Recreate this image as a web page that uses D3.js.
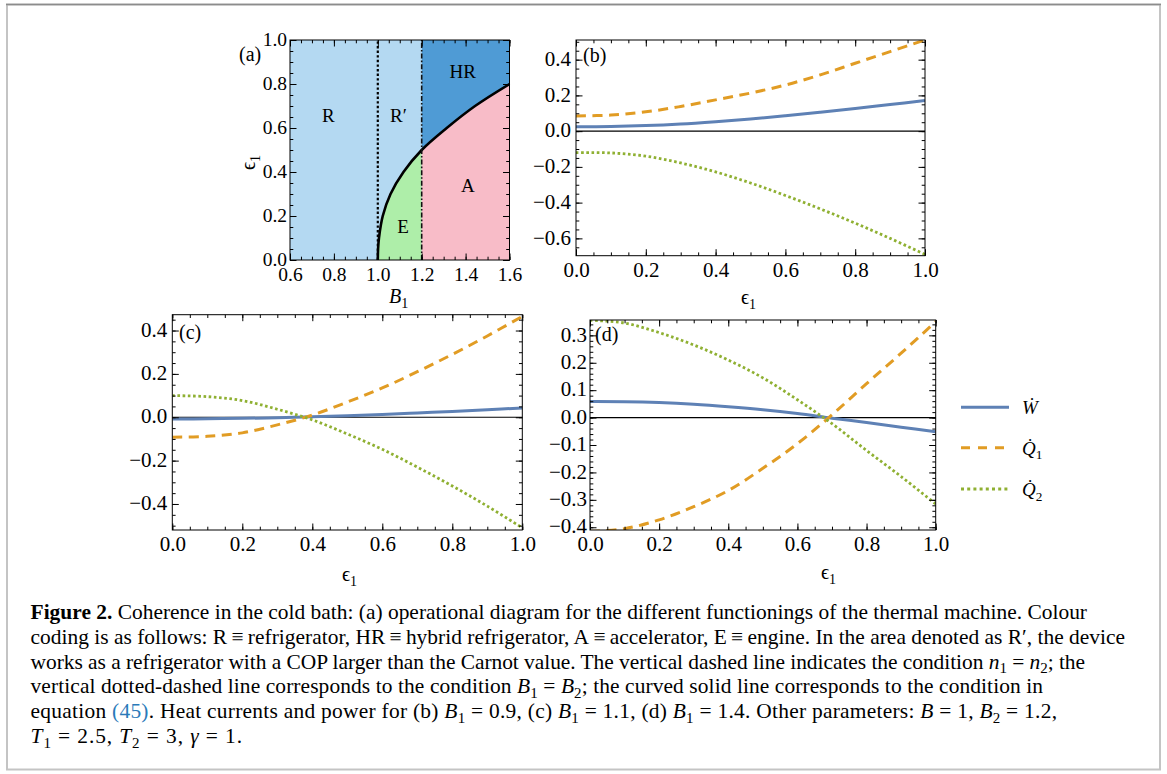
<!DOCTYPE html>
<html>
<head>
<meta charset="utf-8">
<script src="https://cdn.jsdelivr.net/npm/d3@7"></script>
<style>
body { margin: 0; background: #fff; }
text { font-family: "Liberation Serif", "DejaVu Serif", "Noto Serif", serif; fill: #000; white-space: pre; }
</style>
</head>
<body>
<svg id="fig" width="1167" height="774"></svg>
<script>
// ---------- data ----------
// panel (a): operational diagram
var boundaryEps = [0, 0.05, 0.1, 0.2, 0.3, 0.4, 0.5, 0.6, 0.7, 0.8];
var boundaryB1  = [1.0, 1.0013, 1.0053, 1.0225, 1.058, 1.117, 1.2, 1.314, 1.443, 1.6];
var B1_N = 1.0;      // n1 = n2 (dotted line)
var B1_B2 = 1.2;     // B1 = B2 (dot-dashed line)
var regionNames = ['R', 'R\u2032', 'HR', 'A', 'E'];
var regionLabelB1  = [0.775, 1.094, 1.387, 1.41, 1.115];
var regionLabelEps = [0.659, 0.659, 0.856, 0.34, 0.151];
var xTicksA = [0.6, 0.8, 1.0, 1.2, 1.4, 1.6];
var yTicksA = [0.0, 0.2, 0.4, 0.6, 0.8, 1.0];

// panels (b)-(d): W, Q1, Q2 versus eps1
var eps = [0, 0.1, 0.2, 0.3, 0.4, 0.5, 0.6, 0.7, 0.8, 0.9, 1.0];
var wB  = [0.025, 0.026, 0.031, 0.040, 0.053, 0.068, 0.086, 0.106, 0.127, 0.149, 0.171];
var q1B = [0.085, 0.090, 0.108, 0.138, 0.175, 0.213, 0.258, 0.315, 0.380, 0.445, 0.510];
var q2B = [-0.120, -0.122, -0.140, -0.178, -0.228, -0.290, -0.360, -0.435, -0.515, -0.600, -0.690];

var wC  = [-0.008, -0.007, -0.005, -0.002, 0.002, 0.007, 0.013, 0.020, 0.027, 0.035, 0.043];
var q1C = [-0.092, -0.088, -0.072, -0.035, 0.010, 0.070, 0.135, 0.210, 0.290, 0.375, 0.465];
var q2C = [0.100, 0.095, 0.077, 0.037, -0.012, -0.077, -0.148, -0.230, -0.317, -0.410, -0.510];

var wD  = [0.0585, 0.058, 0.055, 0.049, 0.040, 0.029, 0.015, -0.002, -0.018, -0.035, -0.052];
var q1D = [-0.415, -0.405, -0.373, -0.325, -0.266, -0.185, -0.095, 0.010, 0.124, 0.235, 0.350];
var q2D = [0.355, 0.345, 0.310, 0.265, 0.210, 0.145, 0.065, -0.022, -0.120, -0.215, -0.315];

var xTicksE = [0, 0.2, 0.4, 0.6, 0.8, 1.0];
var yTicksB = [-0.6, -0.4, -0.2, 0, 0.2, 0.4];
var yTicksC = [-0.4, -0.2, 0, 0.2, 0.4];
var yTicksD = [-0.4, -0.3, -0.2, -0.1, 0, 0.1, 0.2, 0.3];

var seriesColor = ['#5e81b5', '#e19c24', '#8fb032'];
var seriesDash  = [null, '10,6.5', '2.6,2.6'];
var seriesWidth = [3, 3, 2.8];

// ---------- helpers ----------
var svg = d3.select('#fig');
var fmt = d3.format('.1f');

function measure(str, size, weight, italic) {
	var t = svg.append('text').style('font-size', size + 'px').style('font-weight', weight || 'normal')
		.style('font-style', italic ? 'italic' : 'normal').text(str);
	var w = t.node().getComputedTextLength();
	t.remove();
	return w;
}
// sizes below are Times-like sizes; scale them to whatever serif face is installed
var widthRatio = measure('0.4', 100) / 125;
function S(s) { return s / widthRatio; }

// italic symbol with subscript, e.g. B1, eps1
function symSub(g, x, y, base, sub, size, italic) {
	var t = g.append('text').attr('x', x).attr('y', y).style('font-size', size + 'px');
	t.append('tspan').style('font-style', italic ? 'italic' : 'normal').text(base);
	t.append('tspan').attr('dy', size * 0.25).style('font-size', (size * 0.7) + 'px').text(sub);
	return t;
}

function frameTicks(g, x, y, o) {
	var xr = x.range(), yr = y.range();
	var minor = function(dom, step) {
		var a = Math.ceil(dom[0] / step - 1e-6), b = Math.floor(dom[1] / step + 1e-6);
		return d3.range(a, b + 1).map(function(i) { return +(i * step).toFixed(4); });
	};
	var xMin = minor(x.domain(), o.xMinor), yMin = minor(y.domain(), o.yMinor);
	var defs = [
		[d3.axisBottom(x), 'translate(0,' + yr[0] + ')', o.xTicks, xMin, true, o.xPad],
		[d3.axisTop(x), 'translate(0,' + yr[1] + ')', o.xTicks, xMin, false, 0],
		[d3.axisLeft(y), 'translate(' + xr[0] + ',0)', o.yTicks, yMin, true, o.yPad],
		[d3.axisRight(y), 'translate(' + xr[1] + ',0)', o.yTicks, yMin, false, 0]
	];
	defs.forEach(function(d, k) {
		var gm = g.append('g').attr('transform', d[1]).call(d[0].tickValues(d[3]).tickSize(-3.3).tickFormat(''));
		gm.select('.domain').remove();
		gm.selectAll('text').remove();
		var gM = g.append('g').attr('transform', d[1])
			.call(d[0].tickValues(d[2]).tickSize(-6.5).tickPadding(d[5]).tickFormat(d[4] ? fmt : ''));
		gM.select('.domain').remove();
		if (!d[4]) gM.selectAll('text').remove();
		gM.selectAll('text').attr('fill', '#000')
			.style('font-family', '"Liberation Serif","DejaVu Serif","Noto Serif",serif')
			.style('font-size', o.font + 'px');
		if (k === 2) gM.selectAll('text').attr('dy', '0.27em');
	});
	g.selectAll('.tick line').attr('stroke', '#000').attr('stroke-width', 1);
	g.append('rect').attr('x', xr[0]).attr('y', yr[1]).attr('width', xr[1] - xr[0]).attr('height', yr[0] - yr[1])
		.attr('fill', 'none').attr('stroke', '#000').attr('stroke-width', 1);
}

// ---------- outer border ----------
svg.append('rect').attr('x', 7).attr('y', 4.5).attr('width', 1153).attr('height', 765)
	.attr('fill', 'none').attr('stroke', '#c4c4c4').attr('stroke-width', 2);
svg.append('line').attr('x1', 6).attr('x2', 1161).attr('y1', 4.5).attr('y2', 4.5)
	.attr('stroke', '#8c8c8c').attr('stroke-width', 1.5);

// ---------- panel (a) ----------
(function() {
	var x = d3.scaleLinear().domain([0.6, 1.6]).range([290, 509.5]);
	var y = d3.scaleLinear().domain([0, 1]).range([260, 40]);
	var g = svg.append('g');
	var pts = boundaryB1.map(function(b, i) { return [b, boundaryEps[i]]; });
	var left = pts.filter(function(p) { return p[0] <= B1_B2 + 1e-9; });
	var right = pts.filter(function(p) { return p[0] >= B1_B2 - 1e-9; });

	// refrigerator band (R, R') and hybrid refrigerator band (HR)
	g.append('rect').attr('x', x(0.6)).attr('y', y(1)).attr('width', x(B1_B2) - x(0.6)).attr('height', y(0) - y(1)).attr('fill', '#b4d9f2');
	g.append('rect').attr('x', x(B1_B2)).attr('y', y(1)).attr('width', x(1.6) - x(B1_B2)).attr('height', y(0) - y(1)).attr('fill', '#4f9bd5');

	var area = d3.area().x(function(p) { return x(p[0]); }).y0(y(0)).y1(function(p) { return y(p[1]); }).curve(d3.curveCatmullRom);
	g.append('path').attr('d', area(left)).attr('fill', '#aeeea9');     // E
	g.append('path').attr('d', area(right)).attr('fill', '#f8bcc8');    // A

	var line = d3.line().x(function(p) { return x(p[0]); }).y(function(p) { return y(p[1]); }).curve(d3.curveCatmullRom);
	g.append('path').attr('d', line(pts)).attr('fill', 'none').attr('stroke', '#000').attr('stroke-width', 2.6);

	g.append('line').attr('x1', x(B1_N)).attr('x2', x(B1_N)).attr('y1', y(0)).attr('y2', y(1))
		.attr('stroke', '#000').attr('stroke-width', 2.2).attr('stroke-dasharray', '2.4,2.2');
	g.append('line').attr('x1', x(B1_B2)).attr('x2', x(B1_B2)).attr('y1', y(0)).attr('y2', y(1))
		.attr('stroke', '#111').attr('stroke-width', 1.6).attr('stroke-dasharray', '5,2,1.6,2');

	regionNames.forEach(function(n, i) {
		g.append('text').attr('x', x(regionLabelB1[i])).attr('y', y(regionLabelEps[i])).attr('dy', '0.35em')
			.attr('text-anchor', 'middle').style('font-size', S(19) + 'px').text(n);
	});

	frameTicks(g, x, y, { xTicks: xTicksA, yTicks: yTicksA, xMinor: 0.05, yMinor: 0.05, font: S(19.5), xPad: 7.5, yPad: 3 });
	g.append('text').attr('x', 239).attr('y', 61).style('font-size', S(20) + 'px').text('(a)');
	symSub(g, 389, 303, 'B', '1', S(20), true);
	var yl = g.append('g').attr('transform', 'translate(255,170) rotate(-90)');
	symSub(yl, 0, 0, '\u03F5', '1', S(20), false);
})();

// ---------- panels (b)-(d) ----------
function linePanel(id, box, yDom, yTicks, yMinor, series, lab, labPos, xlabPos, yPad) {
	var x = d3.scaleLinear().domain([0, 1]).range([box[0], box[1]]);
	var y = d3.scaleLinear().domain(yDom).range([box[3], box[2]]);
	var g = svg.append('g');
	g.append('clipPath').attr('id', 'clip' + id).append('rect')
		.attr('x', box[0]).attr('y', box[2]).attr('width', box[1] - box[0]).attr('height', box[3] - box[2]);
	g.append('line').attr('x1', box[0]).attr('x2', box[1]).attr('y1', y(0)).attr('y2', y(0))
		.attr('stroke', '#000').attr('stroke-width', 1.2);
	var line = d3.line().x(function(d) { return x(d[0]); }).y(function(d) { return y(d[1]); }).curve(d3.curveCatmullRom);
	series.forEach(function(s, k) {
		var pts = eps.map(function(e, i) { return [e, s[i]]; });
		g.append('path').attr('clip-path', 'url(#clip' + id + ')').attr('d', line(pts))
			.attr('fill', 'none').attr('stroke', seriesColor[k]).attr('stroke-width', seriesWidth[k])
			.attr('stroke-dasharray', seriesDash[k]);
	});
	frameTicks(g, x, y, { xTicks: xTicksE, yTicks: yTicks, xMinor: 0.05, yMinor: yMinor, font: S(21), xPad: 6, yPad: yPad });
	g.append('text').attr('x', labPos[0]).attr('y', labPos[1]).style('font-size', S(20) + 'px').text(lab);
	symSub(g, xlabPos[0], xlabPos[1], '\u03F5', '1', S(20), false);
}

linePanel('b', [576, 925, 40, 255.7], [-0.697, 0.51], yTicksB, 0.05, [wB, q1B, q2B], '(b)', [583, 62], [741, 304], 5);
linePanel('c', [172.3, 522.3, 314.7, 530], [-0.52, 0.473], yTicksC, 0.05, [wC, q1C, q2C], '(c)', [179, 339], [342, 581], 5);
linePanel('d', [590, 935.7, 320, 530], [-0.41, 0.356], yTicksD, 0.02, [wD, q1D, q2D], '(d)', [595, 341], [821, 579], 3);

// ---------- legend ----------
(function() {
	var g = svg.append('g');
	var rows = [['W\u0307', ''], ['Q\u0307', '1'], ['Q\u0307', '2']];
	var ys = [407.3, 447.7, 489];
	rows.forEach(function(r, k) {
		g.append('line').attr('x1', 961).attr('x2', 1009).attr('y1', ys[k]).attr('y2', ys[k])
			.attr('stroke', seriesColor[k]).attr('stroke-width', seriesWidth[k])
			.attr('stroke-dasharray', k === 1 ? '9,8' : (k === 2 ? '3,3.2' : null));
		symSub(g, 1022, ys[k] + 7, r[0], r[1], S(19), true);
	});
})();

// ---------- caption ----------
var capLines = [
	[['Figure 2.', 'b'], [' Coherence in the cold bath: (a) operational diagram for the different functionings of the thermal machine. Colour', '']],
	[['coding is as follows: R\u2009\u2261\u2009refrigerator, HR\u2009\u2261\u2009hybrid refrigerator, A\u2009\u2261\u2009accelerator, E\u2009\u2261\u2009engine. In the area denoted as R\u2032, the device', '']],
	[['works as a refrigerator with a COP larger than the Carnot value. The vertical dashed line indicates the condition ', ''], ['n', 'i'], ['1', 's'], [' = ', ''], ['n', 'i'], ['2', 's'], ['; the', '']],
	[['vertical dotted-dashed line corresponds to the condition ', ''], ['B', 'i'], ['1', 's'], [' = ', ''], ['B', 'i'], ['2', 's'], ['; the curved solid line corresponds to the condition in', '']],
	[['equation ', ''], ['(45)', 'l'], ['. Heat currents and power for (b) ', ''], ['B', 'i'], ['1', 's'], [' = 0.9, (c) ', ''], ['B', 'i'], ['1', 's'], [' = 1.1, (d) ', ''], ['B', 'i'], ['1', 's'], [' = 1.4. Other parameters: ', ''], ['B', 'i'], [' = 1, ', ''], ['B', 'i'], ['2', 's'], [' = 1.2,', '']],
	[['T', 'i'], ['1', 's'], [' = 2.5, ', ''], ['T', 'i'], ['2', 's'], [' = 3, ', ''], ['\u03B3', 'i'], [' = 1.', '']]
];
var capLineEnd = [1087, 1125, 1085, 1043, 1057, 242];

var capSize = 20 * 907.5 / measure('nce in the cold bath: (a) operational diagram for the different functionings of the thermal machine. Colour', 20);
var capX = 179.5 - measure('Figure 2.', capSize, 'bold') - measure(' Cohere', capSize);

capLines.forEach(function(segs, i) {
	var t = svg.append('text').attr('x', capX).attr('y', 619.3 + i * 24.7).style('font-size', capSize + 'px')
		.attr('textLength', capLineEnd[i] - capX).attr('lengthAdjust', 'spacing');
	var shift = 0;
	segs.forEach(function(s) {
		var ts = t.append('tspan').text(s[0]);
		var want = 0;
		if (s[1] === 'b') ts.style('font-weight', 'bold');
		if (s[1] === 'i') ts.style('font-style', 'italic');
		if (s[1] === 'l') ts.style('fill', '#2a7ab9');
		if (s[1] === 's') { ts.style('font-size', (capSize * 0.7) + 'px'); want = capSize * 0.22; }
		if (want !== shift) { ts.attr('dy', want - shift); shift = want; }
	});
});
</script>
</body>
</html>
